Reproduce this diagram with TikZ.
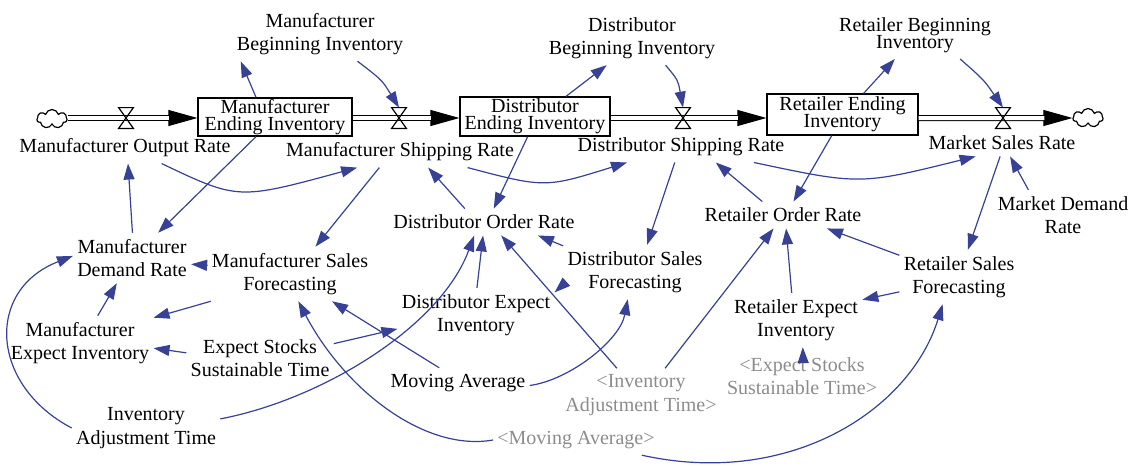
\documentclass[tikz,border=0pt]{standalone}
\usepackage{fontspec}
\setmainfont{Liberation Serif}
\usetikzlibrary{arrows.meta,shapes.symbols}
\definecolor{cblue}{RGB}{55,65,150}
\definecolor{ghost}{RGB}{140,140,140}
\begin{document}
\begin{tikzpicture}[x=0.5pt,y=-0.5pt,
  txt/.style={font=\fontsize{10}{11.7}\selectfont, align=center, inner xsep=2pt, inner ysep=3pt},
  gtxt/.style={txt, text=ghost},
  tighttxt/.style={font={\fontsize{10}{8.5}\selectfont\lineskiplimit=-6pt}, align=center, inner xsep=2pt, inner ysep=3pt},
  stock/.style={draw, line width=0.6pt, inner sep=0pt, align=center, font={\fontsize{10}{8.5}\selectfont\lineskiplimit=-6pt}},
  valve/.style={minimum width=7pt, minimum height=10pt, inner sep=0pt},
  valveline/.style={line width=0.6pt},
  cloudnode/.style={cloud, draw, cloud puffs=7, aspect=1.6, minimum width=15pt, minimum height=9.5pt, inner sep=0pt, line width=0.6pt},
  pipe/.style={draw, line width=0.5pt, double=white, double distance=2pt},
  flowline/.style={draw, line width=0.5pt, -{Triangle[length=14.5pt,width=8pt]}},
  conn/.style={draw=cblue, line width=0.6pt, -{Triangle[length=8pt,width=5.5pt]}}
]
\useasboundingbox (0,0) rectangle (1135,466);

% stocks, clouds, valves
\node[cloudnode] (cl1) at (52,119) {};
\node[cloudnode] (cl2) at (1088,118) {};
\node[stock, minimum width=77pt, minimum height=19pt] (mei) at (275,117) {Manufacturer\\Ending Inventory};
\node[stock, minimum width=75pt, minimum height=19.5pt] (dei) at (535,116.5) {Distributor\\Ending Inventory};
\node[stock, minimum width=75.5pt, minimum height=20.5pt] (rei) at (842.5,114.5) {Retailer Ending\\Inventory};
\node[valve] (v1) at (126,118) {};
\node[valve] (v2) at (399,118) {};
\node[valve] (v3) at (683,118) {};
\node[valve] (v4) at (1003,118) {};

% flows
\draw[flowline] (cl1.east |- v1) -- (v1 -| mei.west);
\draw[pipe, shorten >=14pt] (cl1.east |- v1) -- (v1 -| mei.west);
\draw[flowline] (mei.east |- v2) -- (v2 -| dei.west);
\draw[pipe, shorten >=14pt] (mei.east |- v2) -- (v2 -| dei.west);
\draw[flowline] (dei.east |- v3) -- (v3 -| rei.west);
\draw[pipe, shorten >=14pt] (dei.east |- v3) -- (v3 -| rei.west);
\draw[flowline] (rei.east |- v4) -- (cl2.west);
\draw[pipe, shorten >=14pt] (rei.east |- v4) -- (cl2.west);
\foreach \v in {v1,v2,v3,v4}
  \draw[valveline] (\v.north west) -- (\v.north east) -- (\v.south west) -- (\v.south east) -- cycle;

% variables
\node[txt] (mbi) at (320,34) {Manufacturer\\Beginning Inventory};
\node[txt] (dbi) at (632,38) {Distributor\\Beginning Inventory};
\node[tighttxt] (rbi) at (915,35) {Retailer Beginning\\Inventory};
\node[txt] (mor) at (125,148) {Manufacturer Output Rate};
\node[txt] (msr) at (400,152) {Manufacturer Shipping Rate};
\node[txt] (dsr) at (681,147) {Distributor Shipping Rate};
\node[txt] (mkt) at (1002,143) {Market Sales Rate};
\node[txt] (mdr) at (132,258) {Manufacturer\\Demand Rate};
\node[txt] (msf) at (290,274) {Manufacturer Sales\\Forecasting};
\node[txt] (mexi) at (80,343) {Manufacturer\\Expect Inventory};
\node[txt] (ests) at (260,358) {Expect Stocks\\Sustainable Time};
\node[txt] (iat) at (146,428) {Inventory\\Adjustment Time};
\node[txt] (dor) at (484,222) {Distributor Order Rate};
\node[txt] (dsf) at (635,272) {Distributor Sales\\Forecasting};
\node[txt] (dexi) at (476,315) {Distributor Expect\\Inventory};
\node[txt] (ma) at (458,383) {Moving Average};
\node[gtxt] (giat) at (641,395) {<Inventory\\Adjustment Time>};
\node[gtxt] (gma) at (576,440) {<Moving Average>};
\node[txt] (ror) at (783,215) {Retailer Order Rate};
\node[txt] (rsf) at (959,277) {Retailer Sales\\Forecasting};
\node[txt] (rexi) at (796,320) {Retailer Expect\\Inventory};
\node[gtxt] (gests) at (802,376) {<Expect Stocks\\Sustainable Time>};
\node[txt] (mdmr) at (1063,215) {Market Demand\\Rate};

% connectors
\draw[conn] (mei.134) -- (mbi.199);
\draw[conn] (mbi.-36) .. controls (382,80) .. (v2.north);
\draw[conn] (dei.33) -- (dbi.227);
\draw[conn] (dbi.-39) .. controls (678,80) .. (v3.north);
\draw[conn] (rei.45) -- (rbi.230);
\draw[conn] (rbi.-28) .. controls (984,80) .. (v4.north);
\draw[conn] (mdr.89) -- (mor.-79);
\draw[conn] (mei.226) -- (mdr.44);
\draw[conn] (mor.-23) .. controls (238,200) .. (msr.200);
\draw[conn] (msr.217) -- (msf.47);
\draw[conn] (dor.145) -- (msr.-29);
\draw[conn] (msr.-13) .. controls (545,188) .. (dsr.196);
\draw[conn] (dei.250) -- (dor.54);
\draw[conn] (dsr.248) -- (dsf.66);
\draw[conn] (ror.147) -- (dsr.-24);
\draw[conn] (dsr.-12) .. controls (860,185) .. (mkt.207);
\draw[conn] (rei.243) -- (ror.52);
\draw[conn] (mkt.262) -- (rsf.72);
\draw[conn] (mdmr.144) -- (mkt.-59);
\draw[conn] (msf.174) -- (mdr.-6);
\draw[conn] (msf.199) -- (mexi.19);
\draw[conn] (mexi.57) -- (mdr.239);
\draw[conn] (ests.176) -- (mexi.-4);
\draw[conn] (iat.180) .. controls (-10,385) and (-15,290) .. (mdr.178);
\draw[conn] (iat.7) .. controls (320,400) and (440,328) .. (dor.234);
\draw[conn] (ests.11) -- (dexi.190);
\draw[conn] (ma.141) -- (msf.-33);
\draw[conn] (gma.180) .. controls (425,452) and (345,390) .. (msf.-73);
\draw[conn] (ma.-2) .. controls (570,380) and (620,340) .. (dsf.255);
\draw[conn] (dsf.160) -- (dor.-14);
\draw[conn] (dsf.190) -- (dexi.16);
\draw[conn] (dexi.88) -- (dor.266);
\draw[conn] (giat.132) -- (dor.-38);
\draw[conn] (giat.48) -- (ror.235);
\draw[conn] (rexi.99) -- (ror.-77);
\draw[conn] (rsf.160) -- (ror.-17);
\draw[conn] (rsf.194) -- (rexi.17);
\draw[conn] (gests.88) -- (rexi.-76);
\draw[conn] (gma.-13) .. controls (790,488) and (910,410) .. (rsf.239);
\end{tikzpicture}
\end{document}
